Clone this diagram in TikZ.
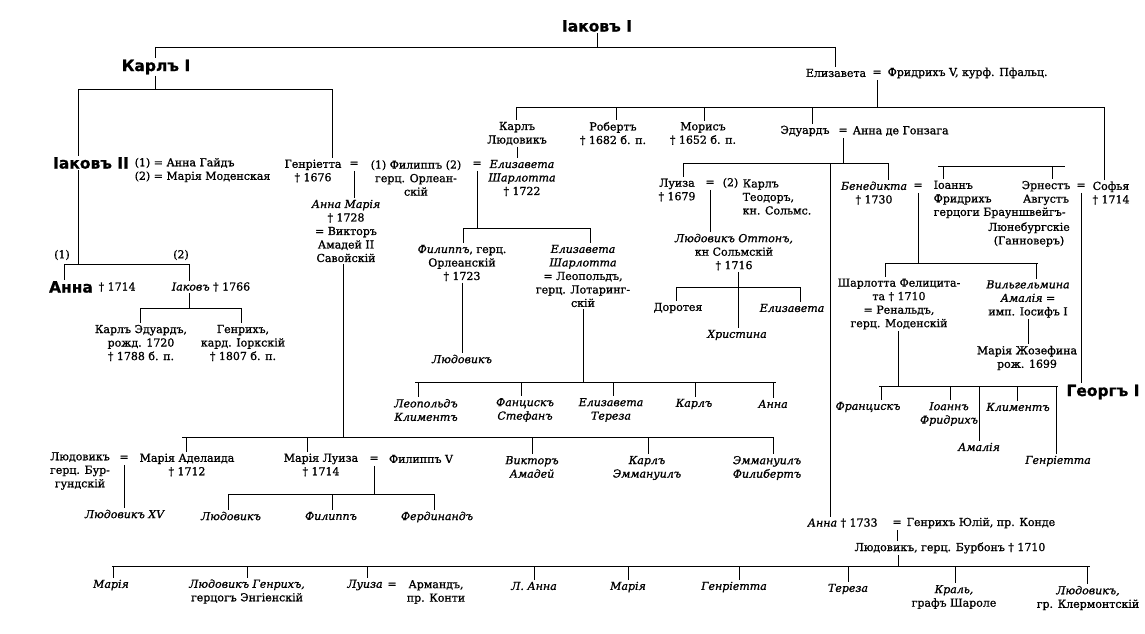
\documentclass[tikz,border=0pt]{standalone}
\usepackage{fontspec}
\setmainfont{DejaVu Serif}[FakeBold=1.1]
\newfontfamily\hdfont{DejaVu Sans}[FakeBold=0.8]
\begin{document}
\begin{tikzpicture}[x=1pt,y=-1pt,
  every node/.style={inner sep=1.5pt, align=center, font=\fontsize{11}{13.5}\selectfont},
  hd/.style={font=\hdfont\bfseries\fontsize{15.5}{17}\selectfont},
  eq/.style={text height=8pt, text depth=2.5pt},
  ln/.style={line width=0.85pt}]
\fill[white] (0,0) rectangle (1145,634);
\useasboundingbox (0,0) rectangle (1145,634);

% ---- generation 0
\node[hd] (J1) at (597,26) {Іаковъ I};
\coordinate (a1) at (155,47); \coordinate (a2) at (835,47);
\draw[ln] (a1) -- (a2);
\draw[ln] (J1.south) -- (J1.south |- a1);

\node[hd] (K1) at (156,67) {Карлъ I};
\draw[ln] (a1) -- (K1.north -| a1);

\node (EL5) at (836,73) {Елизавета};
\node[eq] (EQ5) at (877,73) {=};
\node[anchor=west] (FR5) at (886,73) {Фридрихъ V, курф. Пфальц.};
\draw[ln] (a2) -- (EL5.north -| a2);

% ---- children of Elizabeth & Frederick
\coordinate (b1) at (516,107); \coordinate (b2) at (1104,107);
\coordinate (b3) at (616,107); \coordinate (b4) at (704,107); \coordinate (b5) at (812,107);
\draw[ln] (b1) -- (b2);
\draw[ln] (EQ5.south) -- (EQ5.south |- b1);

\node (KL) at (517,133.5) {Карлъ\\Людовикъ};
\draw[ln] (b1) -- (KL.north -| b1);
\node (RB) at (613,133.5) {Робертъ\\† 1682 б. п.};
\draw[ln] (b3) -- (RB.north -| b3);
\node (MR) at (703,133.5) {Морисъ\\† 1652 б. п.};
\draw[ln] (b4) -- (MR.north -| b4);
\node (ED) at (805,131) {Эдуардъ};
\node[eq] (EQ8) at (843,131) {=};
\node[anchor=west] (AG) at (851,131) {Анна де Гонзага};
\draw[ln] (b5) -- (ED.north -| b5);

% ---- children of Charles I
\coordinate (c1) at (78,89); \coordinate (c2) at (332,89);
\draw[ln] (K1.south -| a1) -- (a1 |- c1);
\draw[ln] (c1) -- (c2);
\node[hd] (J2) at (91,163) {Іаковъ II};
\draw[ln] (c1) -- (J2.north -| c1);
\node[anchor=west, align=left] (J2w) at (133,170) {(1) = Анна Гайдъ\\(2) = Марія Моденская};
\node (HN) at (313,171) {Генріетта\\† 1676};
\draw[ln] (c2) -- (HN.north -| c2);
\node[eq] (EQ6) at (354,164) {=};
\node (FL) at (416,178) {(1) Филиппъ (2)\\герц. Орлеан-\\скій};
\node[eq] (EQ7) at (477,164) {=};
\node (ESh) at (522,178) {\textit{Елизавета}\\\textit{Шарлотта}\\† 1722};
\draw[ln] (KL.south) -- (KL.south |- ESh.north);

% ---- children of James II
\coordinate (d1) at (64,264); \coordinate (d2) at (189,264);
\draw[ln] (J2.south -| c1) -- (c1 |- d1);
\draw[ln] (d1) -- (d2);
\node (L1) at (62,255) {(1)};
\node (L2) at (181,255) {(2)};
\node[hd] (AN) at (71,287) {Анна};
\node[anchor=west] (AN2) at (97,287) {† 1714};
\draw[ln] (d1) -- (AN.north -| d1);
\node (JK) at (211,287) {\textit{Іаковъ} † 1766};
\draw[ln] (d2) -- (JK.north -| d2);
\coordinate (e1) at (140,308); \coordinate (e2) at (241,308);
\draw[ln] (JK.south -| d2) -- (d2 |- e1);
\draw[ln] (e1) -- (e2);
\node (KE) at (141,343) {Карлъ Эдуардъ,\\рожд. 1720\\† 1788 б. п.};
\node (GR) at (243,343) {Генрихъ,\\кард. Іоркскій\\† 1807 б. п.};
\draw[ln] (e1) -- (KE.north -| e1);
\draw[ln] (e2) -- (GR.north -| e2);

% ---- Anna Maria of Savoy
\node (AM) at (346,231) {\textit{Анна Марія}\\† 1728\\= Викторъ\\Амадей II\\Савойскій};
\draw[ln] (EQ6.south) -- (EQ6.south |- AM.north);
\coordinate (f1) at (182,437); \coordinate (f2) at (773,437); \coordinate (f0) at (343,437);
\coordinate (f3) at (186,437); \coordinate (f4) at (307,437);
\coordinate (f5) at (532,437); \coordinate (f6) at (648,437);
\draw[ln] (AM.south -| f0) -- (f0);
\draw[ln] (f1) -- (f2);

\node (LB) at (80,471) {Людовикъ\\герц. Бур-\\гундскій};
\node[eq] (EQ9) at (124,458) {=};
\node (MA) at (187,465) {Марія Аделаида\\† 1712};
\draw[ln] (f3) -- (MA.north -| f3);
\node (LXV) at (125,514) {\textit{Людовикъ XV}};
\draw[ln] (EQ9.south) -- (LXV.north -| EQ9.south);

\node (ML) at (321,465) {Марія Луиза\\† 1714};
\draw[ln] (f4) -- (ML.north -| f4);
\node[eq] (EQ10) at (374,459) {=};
\node (FV) at (421,459) {Филиппъ V};
\coordinate (n1) at (228,494); \coordinate (n2) at (434,494); \coordinate (n3) at (332,494);
\draw[ln] (EQ10.south) -- (EQ10.south |- n1);
\draw[ln] (n1) -- (n2);
\node (SP1) at (231,516) {\textit{Людовикъ}};
\node (SP2) at (331,516) {\textit{Филиппъ}};
\node (SP3) at (437,517) {\textit{Фердинандъ}};
\draw[ln] (n1) -- (SP1.north -| n1);
\draw[ln] (n3) -- (SP2.north -| n3);
\draw[ln] (n2) -- (SP3.north -| n2);

\node (VA) at (532,467) {\textit{Викторъ}\\\textit{Амадей}};
\node (KE2) at (647,468) {\textit{Карлъ}\\\textit{Эммануилъ}};
\node (EF2) at (767,468) {\textit{Эммануилъ}\\\textit{Филибертъ}};
\draw[ln] (f5) -- (VA.north -| f5);
\draw[ln] (f6) -- (KE2.north -| f6);
\draw[ln] (f2) -- (EF2.north -| f2);

% ---- children of Philippe & Elisabeth Charlotte
\coordinate (g1) at (463,228); \coordinate (g2) at (590,228);
\draw[ln] (EQ7.south) -- (EQ7.south |- g1);
\draw[ln] (g1) -- (g2);
\node (FO) at (462,263) {\textit{Филиппъ}, герц.\\Орлеанскій\\† 1723};
\node (EL) at (583,276) {\textit{Елизавета}\\\textit{Шарлотта}\\= Леопольдъ,\\герц. Лотаринг-\\скій};
\draw[ln] (g1) -- (FO.north -| g1);
\draw[ln] (g2) -- (EL.north -| g2);
\node (LD) at (462,359) {\textit{Людовикъ}};
\draw[ln] (FO.south) -- (FO.south |- LD.north);

\coordinate (h1) at (415,382); \coordinate (h2) at (776,382);
\coordinate (h3) at (418,382); \coordinate (h4) at (521,382); \coordinate (h5) at (613,382);
\coordinate (h6) at (695,382); \coordinate (h7) at (773,382);
\draw[ln] (EL.south) -- (EL.south |- h1);
\draw[ln] (h1) -- (h2);
\node (LK) at (426,410) {\textit{Леопольдъ}\\\textit{Климентъ}};
\node (FS) at (525,410) {\textit{Фанцискъ}\\\textit{Стефанъ}};
\node (ET) at (611,410) {\textit{Елизавета}\\\textit{Тереза}};
\node (KR) at (694,404) {\textit{Карлъ}};
\node (ANa) at (773,404) {\textit{Анна}};
\draw[ln] (h3) -- (LK.north -| h3);
\draw[ln] (h4) -- (FS.north -| h4);
\draw[ln] (h5) -- (ET.north -| h5);
\draw[ln] (h6) -- (KR.north -| h6);
\draw[ln] (h7) -- (ANa.north -| h7);

% ---- children of Edward
\coordinate (i1) at (683,163); \coordinate (i2) at (888,163); \coordinate (i3) at (830,163);
\draw[ln] (EQ8.south) -- (EQ8.south |- i1);
\draw[ln] (i1) -- (i2);
\node (LU) at (677,190) {Луиза\\† 1679};
\draw[ln] (i1) -- (LU.north -| i1);
\node[eq] (EQ11) at (710,183) {=};
\node[anchor=west] (KT0) at (721,183) {(2)};
\node[anchor=west, align=left] (KT) at (741,197) {Карлъ\\Теодоръ,\\кн. Сольмс.};
\node (LO) at (734,252) {\textit{Людовикъ Оттонъ,}\\кн Сольмскій\\† 1716};
\draw[ln] (EQ11.south) -- (EQ11.south |- LO.north);
\coordinate (j1) at (676,287); \coordinate (j2) at (800,287); \coordinate (j3) at (738,287);
\draw[ln] (LO.south -| j3) -- (j3);
\draw[ln] (j1) -- (j2);
\node (DO) at (678,308) {Доротея};
\node (EZ) at (792,308) {\textit{Елизавета}};
\node (XR) at (737,335) {\textit{Христина}};
\draw[ln] (j1) -- (DO.north -| j1);
\draw[ln] (j2) -- (EZ.north -| j2);
\draw[ln] (j3) -- (XR.north -| j3);

\node (BN) at (874,193) {\textit{Бенедикта}\\† 1730};
\draw[ln] (i2) -- (BN.north -| i2);
\node[eq] (EQ12) at (918,186) {=};
\node[anchor=west, align=left] (IF) at (932,199.5) {Іоаннъ\\Фридрихъ\\герцоги Брауншвейгъ-};
\node (HL) at (1029,234.5) {Люнебургскіе\\(Ганноверъ)};
\node (EA) at (1046,193) {Эрнестъ\\Августъ};
\node[eq] (EQ13) at (1081,186) {=};
\node (SO) at (1111,193) {Софья\\† 1714};
\draw[ln] (b2) -- (SO.north -| b2);
\coordinate (k1) at (938,166); \coordinate (k2) at (1065,166);
\coordinate (k3) at (943,166); \coordinate (k4) at (1052,166);
\draw[ln] (k1) -- (k2);
\draw[ln] (k3) -- (IF.north -| k3);
\draw[ln] (k4) -- (EA.north -| k4);

\node[hd] (G1) at (1103,392) {Георгъ I};
\draw[ln] (EQ13.south) -- (EQ13.south |- G1.north);

% ---- Brunswick children
\coordinate (l1) at (885,263); \coordinate (l2) at (1038,263); \coordinate (l3) at (1036,263);
\draw[ln] (EQ12.south) -- (EQ12.south |- l1);
\draw[ln] (l1) -- (l2);
\node (SF) at (899,304) {Шарлотта Фелицита-\\та † 1710\\= Ренальдъ,\\герц. Моденскій};
\node (WA) at (1028,299) {\textit{Вильгельмина}\\\textit{Амалія} =\\имп. Іосифъ I};
\draw[ln] (l1) -- (SF.north -| l1);
\draw[ln] (l3) -- (WA.north -| l3);
\node (MJ) at (1027,358) {Марія Жозефина\\рож. 1699};
\draw[ln] (WA.south) -- (WA.south |- MJ.north);

\coordinate (m1) at (879,386); \coordinate (m2) at (1058,386); \coordinate (m0) at (898,386);
\coordinate (m3) at (881,386); \coordinate (m4) at (950,386); \coordinate (m5) at (979,386);
\coordinate (m6) at (1017,386); \coordinate (m7) at (1056,386);
\draw[ln] (SF.south -| m0) -- (m0);
\draw[ln] (m1) -- (m2);
\node (FR) at (868,407) {\textit{Францискъ}};
\node (IFr) at (949,414) {\textit{Іоаннъ}\\\textit{Фридрихъ}};
\node (KL3) at (1018,407) {\textit{Климентъ}};
\node (AML) at (979,447) {\textit{Амалія}};
\node (GN) at (1058,461) {\textit{Генріетта}};
\draw[ln] (m3) -- (FR.north -| m3);
\draw[ln] (m4) -- (IFr.north -| m4);
\draw[ln] (m5) -- (AML.north -| m5);
\draw[ln] (m6) -- (KL3.north -| m6);
\draw[ln] (m7) -- (GN.north -| m7);

% ---- Anna & Conde
\node[anchor=west] (AK) at (806,523) {\textit{Анна} † 1733};
\node[eq] (EQ14) at (897,523) {=};
\node[anchor=west] (HJ) at (905,523) {Генрихъ Юлій, пр. Конде};
\draw[ln] (i3) -- (AK.north -| i3);
\node (LBB) at (950,548) {Людовикъ, герц. Бурбонъ † 1710};
\draw[ln] (EQ14.south) -- (EQ14.south |- LBB.north);

\coordinate (o1) at (112,566); \coordinate (o2) at (1090,566); \coordinate (o0) at (898,566);
\draw[ln] (LBB.south -| o0) -- (o0);
\draw[ln] (o1) -- (o2);
\node (B1) at (111,585) {\textit{Марія}};
\node (B2) at (247,591.5) {\textit{Людовикъ Генрихъ,}\\герцогъ Энгіенскій};
\node (B3) at (365,585) {\textit{Луиза}};
\node[eq] (EQ15) at (392,585) {=};
\node (B3b) at (436,592) {Армандъ,\\пр. Конти};
\node (B4) at (534,586) {\textit{Л. Анна}};
\node (B5) at (628,587) {\textit{Марія}};
\node (B6) at (734,587) {\textit{Генріетта}};
\node (B7) at (848,589) {\textit{Тереза}};
\node (B8) at (954,597) {\textit{Краль,}\\графъ Шароле};
\node (B9) at (1088,598) {\textit{Людовикъ,}\\гр. Клермонтскій};
\foreach \n/\x in {B1/113, B2/247, B3/367, B4/534, B5/628, B6/739, B7/848, B8/955, B9/1087}
  \draw[ln] (\x,566) -- (\n.north -| {(\x,566)});
\end{tikzpicture}
\end{document}
